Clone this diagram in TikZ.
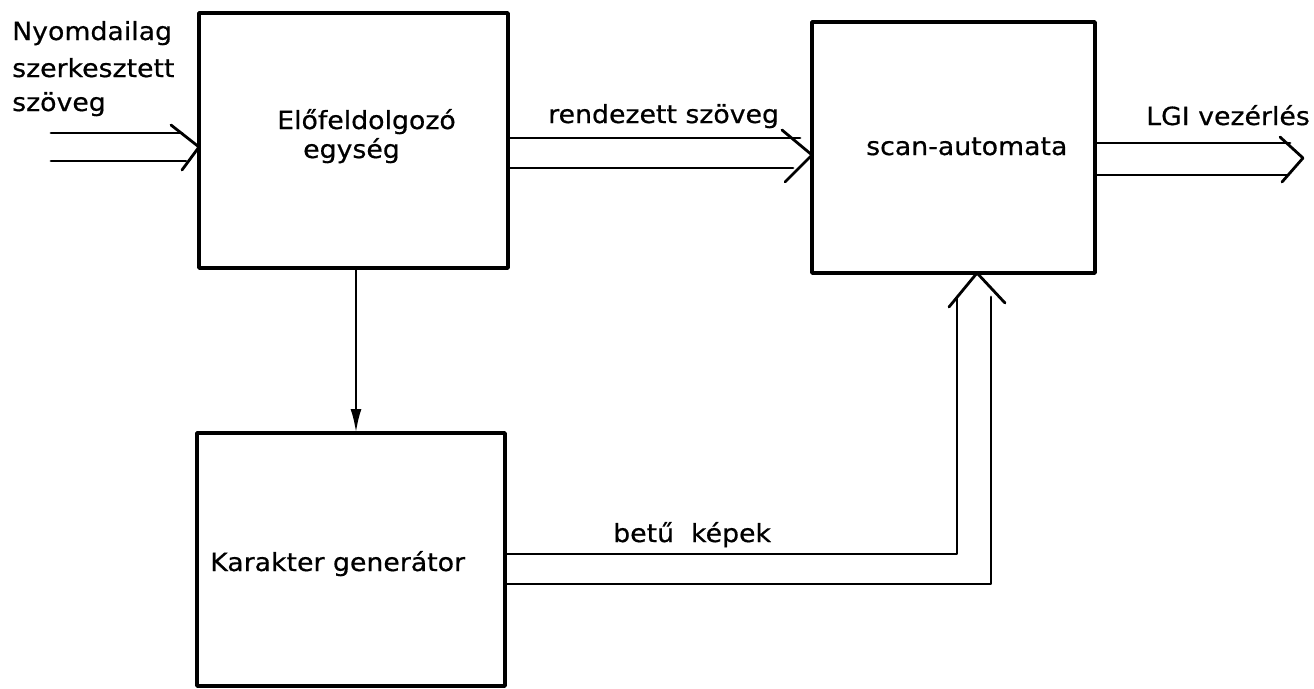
\documentclass[tikz,border=0pt]{standalone}
\usepackage{fontspec}
\setmainfont{DejaVu Sans}[FakeStretch=1.07,FakeBold=0.6]
\usetikzlibrary{arrows.meta,calc}
\begin{document}
\begin{tikzpicture}[x=1pt,y=-1pt,line join=round,line cap=round]
\tikzset{
  box/.style={draw, line width=3.5pt, inner sep=0pt, outer sep=0pt},
  wire/.style={draw, line width=2.8pt},
  lbl/.style={anchor=base west, inner sep=0pt, font=\fontsize{25}{30}\selectfont}
}
\useasboundingbox (0,0) rectangle (1314,688);
% boxes
\node[box, minimum width=309pt, minimum height=255pt] (pre) at (353.5,140.5) {};
\node[box, minimum width=283pt, minimum height=251pt] (scan) at (953.5,147.5) {};
\node[box, minimum width=308pt, minimum height=253pt] (kar) at (351,559.5) {};
% texts
\node[lbl] (t1) at (12,40) {Nyomdailag};
\node[lbl] (t2) at (12,77) {szerkesztett};
\node[lbl] (t3) at (12,111) {szöveg};
\node[lbl] (t4) at (277,129) {Előfeldolgozó};
\node[lbl] (t5) at (303,158) {egység};
\node[lbl] (t6) at (548,123) {rendezett szöveg};
\node[lbl] (t7) at (866,155) {scan-automata};
\node[lbl] (t8) at (1146,125) {LGI vezérlés};
\node[lbl] (t9) at (613,542) {betű\ \ képek};
\node[lbl] (t10) at (210,571) {Karakter generátor};
% input double arrow
\coordinate (inA) at (51,133);
\coordinate (inB) at (51,161);
\coordinate (inT) at (199,147);
\draw[wire] (inA) -- ($(inT)+(-17,-14)$);
\draw[wire] (inB) -- ($(inT)+(-13,14)$);
\draw[wire] ($(inT)+(-28,-22)$) -- (inT) -- ($(inT)+(-17,23)$);
% rendezett szoveg double arrow
\coordinate (rT) at (812,155);
\draw[wire] ($(pre.east)+(0,-2.5)$) -- ($(rT)+(-12,-17)$);
\draw[wire] ($(pre.east)+(0,27.5)$) -- ($(rT)+(-19,13)$);
\draw[wire] ($(rT)+(-30,-25)$) -- (rT) -- ($(rT)+(-27,27)$);
% LGI output double arrow
\coordinate (oT) at (1303,158);
\draw[wire] ($(scan.east)+(0,-4.5)$) -- ($(oT)+(-13,-15)$);
\draw[wire] ($(scan.east)+(0,27.5)$) -- ($(oT)+(-15,17)$);
\draw[wire] ($(oT)+(-23,-21)$) -- (oT) -- ($(oT)+(-21,24)$);
% down arrow
\draw[wire, -{Latex[length=24pt,width=11pt]}] ([xshift=2.5pt]pre.south) -- ([xshift=2.5pt]pre.south |- kar.north);
% bottom feedback double arrow
\coordinate (uT) at ([xshift=23.5pt]scan.south);
\draw[wire] ([yshift=5.5pt]kar.east) -| ($(uT)+(-20,24)$);
\draw[wire] ([yshift=-24.5pt]kar.east) -| ($(uT)+(14,24)$);
\draw[wire] ($(uT)+(-28,34)$) -- (uT) -- ($(uT)+(28,30)$);
\end{tikzpicture}
\end{document}
